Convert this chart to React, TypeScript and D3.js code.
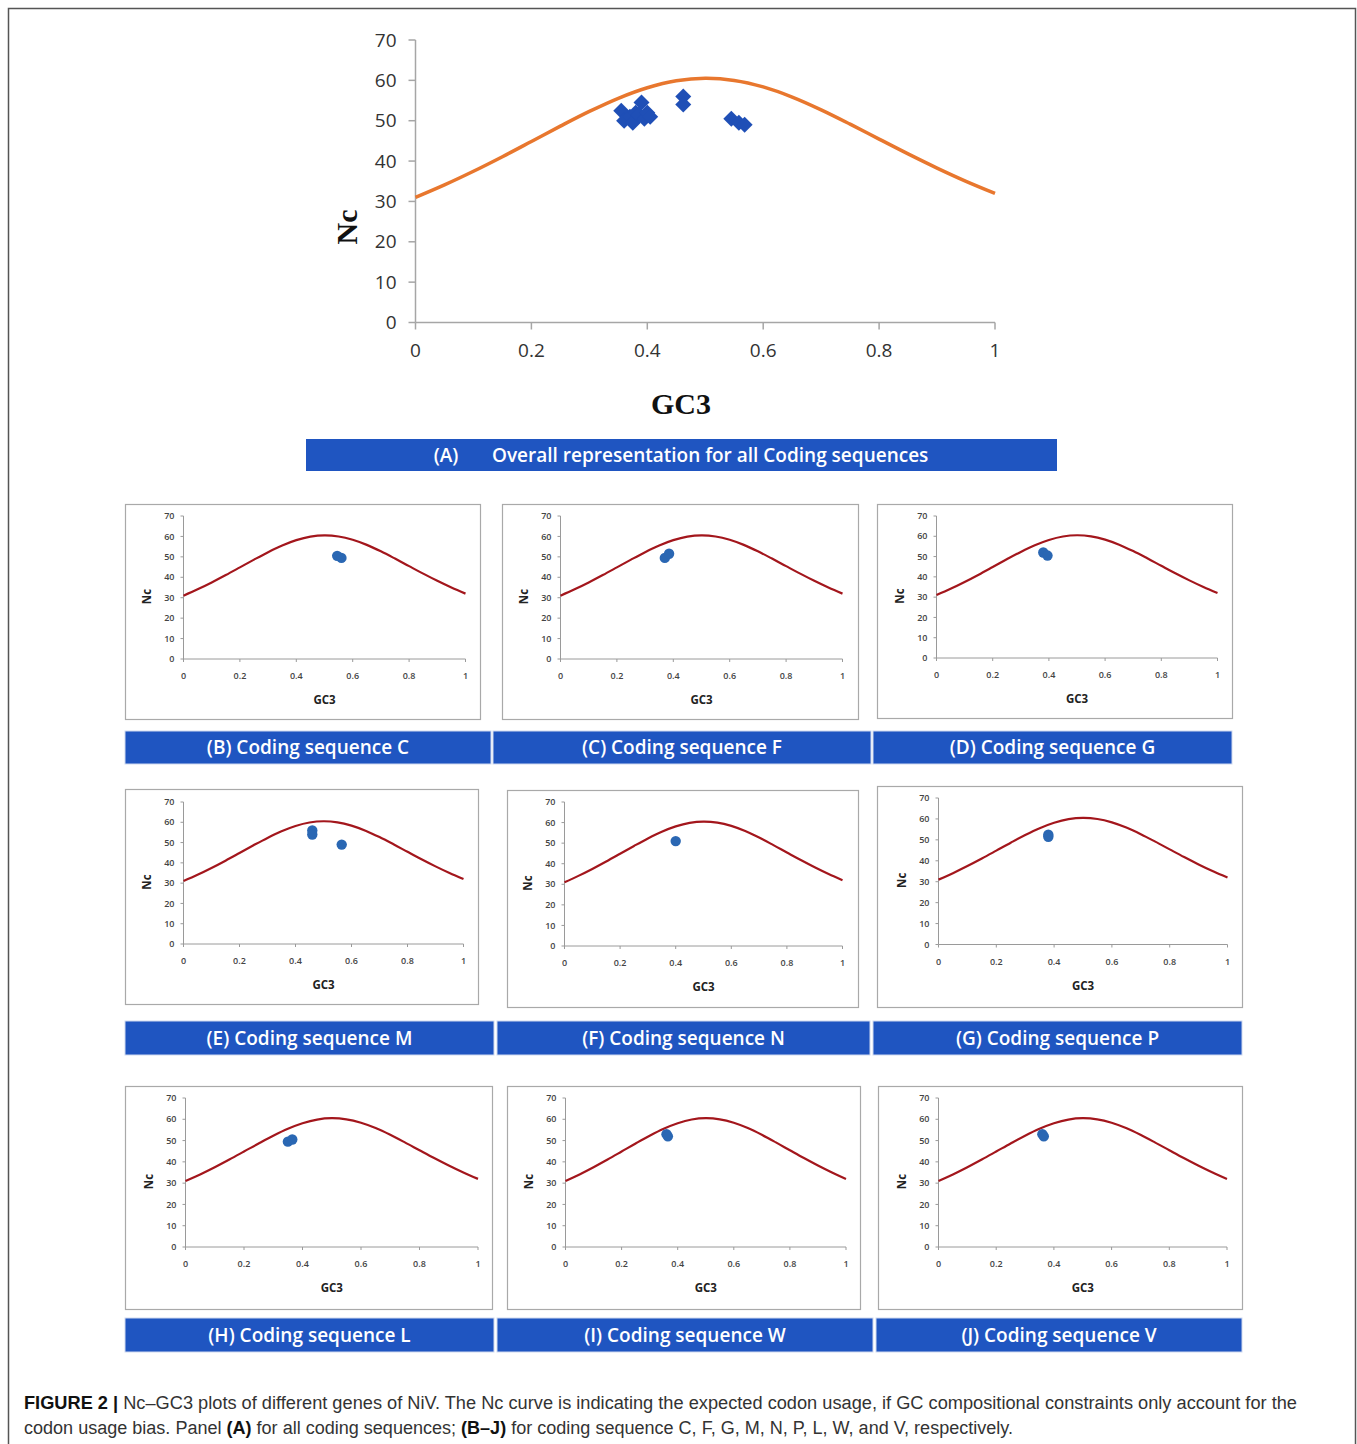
import React from "react";
import * as d3 from "d3";

// ---------- data ----------
const CURVE_GC3 = [0, 0.05, 0.1, 0.15, 0.2, 0.25, 0.3, 0.35, 0.4, 0.45, 0.5, 0.55, 0.6, 0.65, 0.7, 0.75, 0.8, 0.85, 0.9, 0.95, 1];
const CURVE_NC = [31.0, 34.09, 37.47, 41.08, 44.85, 48.65, 52.3, 55.56, 58.17, 59.88, 60.5, 59.98, 58.37, 55.86, 52.7, 49.15, 45.45, 41.78, 38.27, 34.99, 32.0];

const X_TICKS = [0, 0.2, 0.4, 0.6, 0.8, 1];
const X_TICK_LABELS = ["0", "0.2", "0.4", "0.6", "0.8", "1"];
const Y_TICKS = [0, 10, 20, 30, 40, 50, 60, 70];

const ALL_GC3 = [0.355, 0.36, 0.37, 0.375, 0.38, 0.385, 0.39, 0.395, 0.4, 0.405, 0.462, 0.462, 0.545, 0.558, 0.568];
const ALL_NC = [52.5, 50, 51, 49.5, 52, 51.5, 54.5, 50.5, 52, 51, 56, 54, 50.5, 49.5, 49];

const PANEL_LETTERS = ["B", "C", "D", "E", "F", "G", "H", "I", "J"];
const PANEL_GENES = ["C", "F", "G", "M", "N", "P", "L", "W", "V"];
const PANEL_GC3 = [
  [0.545, 0.56],
  [0.37, 0.385],
  [0.38, 0.395],
  [0.46, 0.46, 0.565],
  [0.4],
  [0.38, 0.38],
  [0.35, 0.365],
  [0.36, 0.365],
  [0.36, 0.365],
];
const PANEL_NC = [
  [50.5, 49.5],
  [49.5, 51.5],
  [52, 50.5],
  [56, 54, 49],
  [51],
  [52.5, 51.5],
  [49.5, 50.5],
  [53, 52],
  [53, 52],
];

const MAIN_TITLE_TAG = "(A)";
const MAIN_TITLE = "Overall representation for all Coding sequences";

// ---------- layout (positions only) ----------
const MAIN = { x0: 415.5, x1: 995, y0: 322.5, y70: 40 };
const PANELS = [
  { box: [125, 504, 355, 215], x0: 183.5, x1: 465.5, y0: 659, y70: 516, bar: [125, 731, 366, 33] },
  { box: [502, 504, 356, 215], x0: 560.5, x1: 842.5, y0: 659, y70: 516, bar: [493, 731, 378, 33] },
  { box: [877, 504, 355, 214], x0: 936.5, x1: 1217.5, y0: 658, y70: 516, bar: [873, 731, 359, 33] },
  { box: [125, 789, 353, 215], x0: 183.5, x1: 463.5, y0: 944, y70: 802, bar: [125, 1021, 369, 34] },
  { box: [507, 790, 351, 217], x0: 564.5, x1: 842.5, y0: 946, y70: 802, bar: [497, 1021, 373, 34] },
  { box: [877, 786, 365, 221], x0: 938.5, x1: 1227.5, y0: 944.5, y70: 798, bar: [873, 1021, 369, 34] },
  { box: [125, 1086, 367, 223], x0: 185.5, x1: 478, y0: 1247, y70: 1098, bar: [125, 1318, 369, 34] },
  { box: [507, 1086, 353, 223], x0: 565.5, x1: 846, y0: 1247, y70: 1098, bar: [497, 1318, 376, 34] },
  { box: [878, 1086, 364, 223], x0: 938.5, x1: 1227, y0: 1247, y70: 1098, bar: [876, 1318, 366, 34] },
];

const BAR_FILL = "#1f55c1";
const SANS = "'Open Sans', 'Liberation Sans', Arial, sans-serif";
const SERIF = "'Liberation Serif', 'Times New Roman', serif";

function curvePath(x: d3.ScaleLinear<number, number>, y: d3.ScaleLinear<number, number>) {
  const pts = CURVE_GC3.map((g, i) => [g, CURVE_NC[i]] as [number, number]);
  return d3
    .line<[number, number]>()
    .x((d) => x(d[0]))
    .y((d) => y(d[1]))
    .curve(d3.curveCatmullRom.alpha(0.5))(pts) as string;
}

const DIAMOND_R = 8;
const diamondPath = `M0,${-DIAMOND_R}L${DIAMOND_R},0L0,${DIAMOND_R}L${-DIAMOND_R},0Z`;

function MainPanel() {
  const x = d3.scaleLinear().domain([0, 1]).range([MAIN.x0, MAIN.x1]);
  const y = d3.scaleLinear().domain([0, 70]).range([MAIN.y0, MAIN.y70]);
  return (
    <g>
      <line x1={MAIN.x0} x2={MAIN.x0} y1={y(70)} y2={y(0)} stroke="#a6a6a6" strokeWidth={1.5} />
      <line x1={MAIN.x0} x2={MAIN.x1} y1={y(0)} y2={y(0)} stroke="#a6a6a6" strokeWidth={1.5} />
      {Y_TICKS.map((t) => (
        <g key={"y" + t}>
          <line x1={MAIN.x0 - 7} x2={MAIN.x0} y1={y(t)} y2={y(t)} stroke="#a6a6a6" strokeWidth={1.5} />
          <text x={MAIN.x0 - 19} y={y(t)} dy="0.35em" textAnchor="end" fontFamily={SANS} fontSize={19} fill="#333">
            {t}
          </text>
        </g>
      ))}
      {X_TICKS.map((t, i) => (
        <g key={"x" + t}>
          <line x1={x(t)} x2={x(t)} y1={y(0)} y2={y(0) + 7} stroke="#a6a6a6" strokeWidth={1.5} />
          <text x={x(t)} y={350} dy="0.35em" textAnchor="middle" fontFamily={SANS} fontSize={19} fill="#333">
            {X_TICK_LABELS[i]}
          </text>
        </g>
      ))}
      <path d={curvePath(x, y)} fill="none" stroke="#e8772e" strokeWidth={3.5} />
      {ALL_GC3.map((g, i) => (
        <path key={"p" + i} d={diamondPath} transform={`translate(${x(g)},${y(ALL_NC[i])})`} fill="#1f4fb6" />
      ))}
      <text x={681} y={403} dy="0.35em" textAnchor="middle" fontFamily={SERIF} fontWeight="bold" fontSize={30} fill="#111">
        GC3
      </text>
      <text
        transform={`translate(346,227) rotate(-90)`}
        dy="0.35em"
        textAnchor="middle"
        fontFamily={SERIF}
        fontWeight="bold"
        fontSize={30}
        fill="#111"
      >
        Nc
      </text>
      <rect x={306} y={439} width={751} height={32} fill={BAR_FILL} />
      <text x={446} y={455} dy="0.35em" textAnchor="middle" fontFamily={SANS} fontWeight={600} fontSize={19} fill="#fff">
        {MAIN_TITLE_TAG}
      </text>
      <text x={492} y={455} dy="0.35em" textAnchor="start" fontFamily={SANS} fontWeight={600} fontSize={19} fill="#fff">
        {MAIN_TITLE}
      </text>
    </g>
  );
}

function SmallPanel({ idx }: { idx: number }) {
  const L = PANELS[idx];
  const x = d3.scaleLinear().domain([0, 1]).range([L.x0, L.x1]);
  const y = d3.scaleLinear().domain([0, 70]).range([L.y0, L.y70]);
  const [bx, by, bw, bh] = L.box;
  const [rx, ry, rw, rh] = L.bar;
  return (
    <g>
      <rect x={bx + 0.5} y={by + 0.5} width={bw} height={bh} fill="#fff" stroke="#a9a9a9" strokeWidth={1.2} />
      <line x1={L.x0} x2={L.x0} y1={y(70)} y2={y(0)} stroke="#9a9a9a" strokeWidth={1} />
      <line x1={L.x0} x2={L.x1} y1={y(0)} y2={y(0)} stroke="#9a9a9a" strokeWidth={1} />
      {Y_TICKS.map((t) => (
        <g key={"y" + t}>
          <line x1={L.x0 - 3} x2={L.x0} y1={y(t)} y2={y(t)} stroke="#9a9a9a" strokeWidth={1} />
          <text x={L.x0 - 9} y={y(t)} dy="0.35em" textAnchor="end" fontFamily={SANS} fontSize={9} fontWeight={600} fill="#444">
            {t}
          </text>
        </g>
      ))}
      {X_TICKS.map((t, i) => (
        <g key={"x" + t}>
          <line x1={x(t)} x2={x(t)} y1={y(0)} y2={y(0) + 3} stroke="#9a9a9a" strokeWidth={1} />
          <text x={x(t)} y={y(0) + 17} dy="0.35em" textAnchor="middle" fontFamily={SANS} fontSize={9} fontWeight={600} fill="#444">
            {X_TICK_LABELS[i]}
          </text>
        </g>
      ))}
      <path d={curvePath(x, y)} fill="none" stroke="#a3161c" strokeWidth={2.2} />
      {PANEL_GC3[idx].map((g, i) => (
        <circle key={"c" + i} cx={x(g)} cy={y(PANEL_NC[idx][i])} r={5.2} fill="#2a67b3" />
      ))}
      <text x={(L.x0 + L.x1) / 2} y={y(0) + 41} dy="0.35em" textAnchor="middle" fontFamily={SANS} fontWeight="bold" fontSize={11.5} fill="#222">
        GC3
      </text>
      <text
        transform={`translate(${L.x0 - 37},${(L.y0 + L.y70) / 2 + 9}) rotate(-90)`}
        dy="0.35em"
        textAnchor="middle"
        fontFamily={SANS}
        fontWeight="bold"
        fontSize={11.5}
        fill="#222"
      >
        Nc
      </text>
      <rect x={rx} y={ry} width={rw} height={rh} fill={BAR_FILL} stroke="#cfd9ef" strokeWidth={1} />
      <text x={rx + rw / 2} y={ry + rh / 2} dy="0.35em" textAnchor="middle" fontFamily={SANS} fontWeight={600} fontSize={19} fill="#fff">
        {`(${PANEL_LETTERS[idx]}) Coding sequence ${PANEL_GENES[idx]}`}
      </text>
    </g>
  );
}

export default function App() {
  const CAP = "'Liberation Sans Narrow', 'Liberation Sans', Arial, sans-serif";
  return (
    <svg width={1357} height={1444} style={{ position: "absolute", left: 0, top: 0, background: "#fff" }}>
      <rect x={0} y={0} width={1357} height={1444} fill="#fff" />
      <rect x={8.5} y={8.5} width={1347} height={1445} fill="none" stroke="#555" strokeWidth={1.5} />
      <MainPanel />
      {PANELS.map((_, i) => (
        <SmallPanel key={i} idx={i} />
      ))}
      <text x={24} y={1409} fontFamily={CAP} fontSize={18} fill="#333" textLength={1273} lengthAdjust="spacingAndGlyphs">
        <tspan fontWeight="bold" fill="#111">FIGURE 2 |</tspan>
        <tspan> Nc–GC3 plots of different genes of NiV. The Nc curve is indicating the expected codon usage, if GC compositional constraints only account for the</tspan>
      </text>
      <text x={24} y={1434} fontFamily={CAP} fontSize={18} fill="#333" textLength={989} lengthAdjust="spacingAndGlyphs">
        <tspan>codon usage bias. Panel </tspan>
        <tspan fontWeight="bold" fill="#111">(A)</tspan>
        <tspan> for all coding sequences; </tspan>
        <tspan fontWeight="bold" fill="#111">(B–J)</tspan>
        <tspan> for coding sequence C, F, G, M, N, P, L, W, and V, respectively.</tspan>
      </text>
    </svg>
  );
}
